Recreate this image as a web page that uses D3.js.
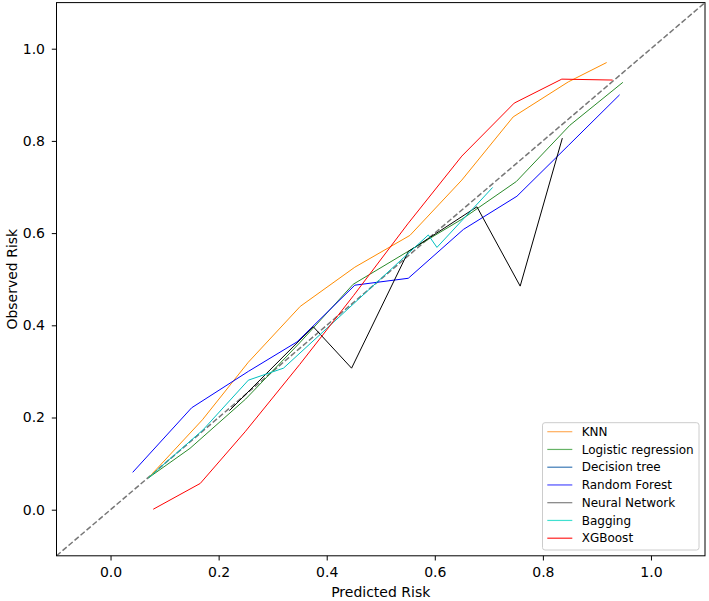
<!DOCTYPE html>
<html><head><meta charset="utf-8">
<script src="https://cdn.jsdelivr.net/npm/d3@7"></script>
<style>
body{margin:0;background:#fff;}
text{font-family:"DejaVu Sans",sans-serif;}
</style></head>
<body>
<svg id="chart" width="709" height="601"></svg>
<script>
const seriesNames = ["KNN","Logistic regression","Decision tree","Random Forest","Neural Network","Bagging","XGBoost"];
const knnX = [0.070,0.170,0.255,0.351,0.452,0.554,0.650,0.745,0.847,0.918];
const knnY = [0.069,0.195,0.320,0.441,0.526,0.595,0.715,0.852,0.928,0.970];
const lrX = [0.070,0.147,0.250,0.350,0.449,0.550,0.650,0.751,0.850,0.948];
const lrY = [0.069,0.133,0.240,0.362,0.489,0.560,0.630,0.712,0.834,0.927];
const dtX = [];
const dtY = [];
const rfX = [0.041,0.150,0.255,0.345,0.452,0.551,0.653,0.752,0.848,0.942];
const rfY = [0.081,0.221,0.300,0.364,0.487,0.502,0.608,0.680,0.791,0.900];
const nnX = [0.220,0.375,0.446,0.551,0.678,0.758,0.836];
const nnY = [0.215,0.397,0.307,0.560,0.657,0.485,0.806];
const bgX = [0.070,0.171,0.255,0.320,0.450,0.588,0.604,0.707];
const bgY = [0.069,0.173,0.281,0.307,0.447,0.596,0.569,0.699];
const xgX = [0.079,0.166,0.249,0.350,0.450,0.550,0.650,0.747,0.835,0.929];
const xgY = [0.001,0.057,0.169,0.315,0.465,0.620,0.767,0.882,0.934,0.932];
const tickValues = [0.0,0.2,0.4,0.6,0.8,1.0];

const seriesX = [knnX,lrX,dtX,rfX,nnX,bgX,xgX];
const seriesY = [knnY,lrY,dtY,rfY,nnY,bgY,xgY];
const lineColors = ["#ff8c00","#2a8a2a","#1f77b4","#0000ff","#000000","#00bfbf","#ff0000"];
const legendColors = ["#ffad5c","#66b366","#3a78b5","#4d4dff","#808080","#40e0d0","#ff2020"];

const svg = d3.select("#chart");
const L=56.5, R=705, T=2.6, B=555.8;
const x = d3.scaleLinear().domain([-0.1,1.1]).range([L,R]);
const y = d3.scaleLinear().domain([-0.1,1.1]).range([B,T]);

svg.append("clipPath").attr("id","clip").append("rect")
  .attr("x",L).attr("y",T).attr("width",R-L).attr("height",B-T);
const plot = svg.append("g").attr("clip-path","url(#clip)");

// diagonal reference
plot.append("line")
  .attr("x1",x(-0.1)).attr("y1",y(-0.1)).attr("x2",x(1.1)).attr("y2",y(1.1))
  .attr("stroke","#777").attr("stroke-width",1.5).attr("stroke-dasharray","5.5,2.4");

const line = d3.line().x(d=>x(d[0])).y(d=>y(d[1]));
seriesNames.forEach((n,i)=>{
  const pts = seriesX[i].map((v,j)=>[v,seriesY[i][j]]);
  if(!pts.length) return;
  plot.append("path").datum(pts).attr("d",line)
    .attr("fill","none").attr("stroke",lineColors[i]).attr("stroke-width",1)
    .attr("stroke-linejoin","miter");
});

// axes
const xAxis = svg.append("g").attr("transform",`translate(0,${B})`)
  .call(d3.axisBottom(x).tickValues(tickValues).tickFormat(d3.format(".1f")).tickSize(4.7).tickPadding(7));
const yAxis = svg.append("g").attr("transform",`translate(${L},0)`)
  .call(d3.axisLeft(y).tickValues(tickValues).tickFormat(d3.format(".1f")).tickSize(4.7).tickPadding(6.8));
[xAxis,yAxis].forEach(g=>{
  g.select(".domain").remove();
  g.selectAll("line").attr("stroke","#000").attr("stroke-width",1);
  g.selectAll("text").attr("font-size",14).attr("fill","#000").attr("font-family","DejaVu Sans");
});
svg.append("rect").attr("x",L).attr("y",T).attr("width",R-L).attr("height",B-T)
  .attr("fill","none").attr("stroke","#000").attr("stroke-width",1);

svg.append("text").attr("x",(L+R)/2).attr("y",596.5).attr("text-anchor","middle")
  .attr("font-size",14).text("Predicted Risk");
svg.append("text").attr("transform",`translate(16.5,${(T+B)/2}) rotate(-90)`).attr("text-anchor","middle")
  .attr("font-size",14).text("Observed Risk");

// legend
const lg = svg.append("g");
lg.append("rect").attr("x",542.5).attr("y",422.7).attr("width",156.5).attr("height",127.3)
  .attr("rx",2.5).attr("fill","#fff").attr("fill-opacity",0.8).attr("stroke","#ccc").attr("stroke-width",1);
seriesNames.forEach((n,i)=>{
  const yy = 431.7 + i*17.75;
  lg.append("line").attr("x1",547.3).attr("x2",572.3).attr("y1",yy).attr("y2",yy)
    .attr("stroke",legendColors[i]).attr("stroke-width",1.2);
  lg.append("text").attr("x",581.7).attr("y",yy).attr("dy","0.35em")
    .attr("font-size",12).attr("fill","#000").text(n);
});
</script>
</body></html>
